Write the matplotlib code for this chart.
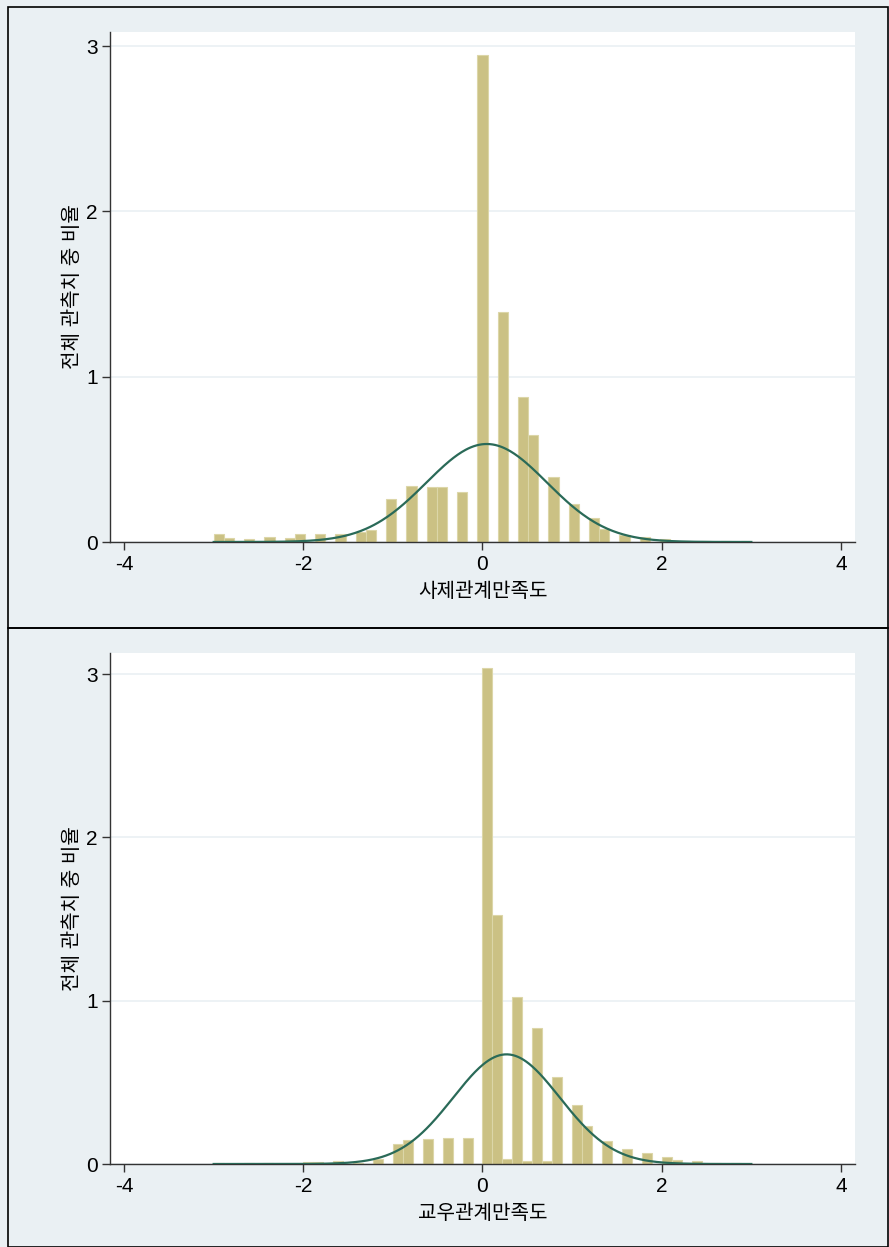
import numpy as np
import matplotlib.pyplot as plt
from matplotlib.patches import Rectangle

plt.rcParams['font.family'] = ['Liberation Sans', 'Noto Sans CJK KR']
plt.rcParams['axes.unicode_minus'] = False

# 사제관계만족도: density per bin, 53 equal bins on [-3, 3]
sj_density = [
    0.046, 0.022, 0.0, 0.019, 0.0, 0.028, 0.0, 0.022, 0.046, 0.0,
    0.050, 0.0, 0.050, 0.0, 0.059, 0.071, 0.0, 0.260, 0.0, 0.340,
    0.0, 0.334, 0.334, 0.0, 0.300, 0.0, 2.946, 0.0, 1.390, 0.0,
    0.879, 0.647, 0.0, 0.395, 0.0, 0.228, 0.0, 0.147, 0.079, 0.0,
    0.044, 0.0, 0.030, 0.0, 0.020, 0.0, 0.008, 0.0, 0.005, 0.0,
    0.004, 0.0, 0.004,
]
sj_mean, sj_sd = 0.047, 0.673

# 교우관계만족도: density per bin, 54 equal bins on [-3, 3]
gw_density = [
    0.005, 0.0, 0.0, 0.004, 0.0, 0.004, 0.0, 0.0, 0.0, 0.015,
    0.015, 0.0, 0.020, 0.0, 0.005, 0.0, 0.030, 0.0, 0.122, 0.150,
    0.0, 0.153, 0.0, 0.160, 0.0, 0.161, 0.0, 3.040, 1.525, 0.030,
    1.023, 0.020, 0.830, 0.020, 0.535, 0.0, 0.360, 0.230, 0.0, 0.141,
    0.0, 0.090, 0.0, 0.065, 0.0, 0.045, 0.022, 0.0, 0.020, 0.0,
    0.005, 0.0, 0.004, 0.0,
]
gw_mean, gw_sd = 0.268, 0.594

x_min, x_max = -3, 3
x_ticks = [-4, -2, 0, 2, 4]
y_ticks = [0, 1, 2, 3]
y_label = '전체 관측치 중 비율'

BG = '#EAF0F3'
BAR = '#CBC184'
BAR_EDGE = '#DCD6A8'
CURVE = '#2A6A58'

W, H = 889, 1247
fig = plt.figure(figsize=(W / 100, H / 100), dpi=100, facecolor=BG)

# panel frames
for top, bot in [(7, 628), (628, 1247)]:
    fig.patches.append(Rectangle((8 / W, 1 - bot / H), (W - 9) / W, (bot - top) / H,
                                 transform=fig.transFigure, facecolor='none',
                                 edgecolor='black', linewidth=1.2))


def draw_panel(top_px, bot_px, ymax, density, mean, sd, xlabel):
    ax = fig.add_axes([110 / W, 1 - bot_px / H, 745 / W, (bot_px - top_px) / H])
    n = len(density)
    edges = np.linspace(x_min, x_max, n + 1)
    centers = (edges[:-1] + edges[1:]) / 2
    ax.bar(centers, density, width=edges[1] - edges[0], color=BAR,
           edgecolor=BAR_EDGE, linewidth=0.8, zorder=2)
    xs = np.linspace(x_min, x_max, 400)
    ys = np.exp(-0.5 * ((xs - mean) / sd) ** 2) / (sd * np.sqrt(2 * np.pi))
    ax.plot(xs, ys, color=CURVE, linewidth=1.6, zorder=3)

    ax.set_xlim(-4.157, 4.157)
    ax.set_ylim(0, ymax)
    ax.set_xticks(x_ticks)
    ax.set_yticks(y_ticks)
    ax.grid(axis='y', color=BG, linewidth=1.2, zorder=0)
    ax.set_axisbelow(True)
    for s in ['top', 'right']:
        ax.spines[s].set_visible(False)
    for s in ['left', 'bottom']:
        ax.spines[s].set_color('#333333')
        ax.spines[s].set_linewidth(1.0)
    ax.tick_params(direction='out', length=6, width=1, color='#333333',
                   labelsize=15, pad=3)
    ax.set_ylabel(y_label, fontsize=14.5, labelpad=3)
    ax.set_xlabel(xlabel, fontsize=14.5, labelpad=6)
    return ax


draw_panel(32, 542, 3.085, sj_density, sj_mean, sj_sd, '사제관계만족도')
draw_panel(653, 1164, 3.13, gw_density, gw_mean, gw_sd, '교우관계만족도')

fig.savefig('out.png', dpi=100, facecolor=BG)
